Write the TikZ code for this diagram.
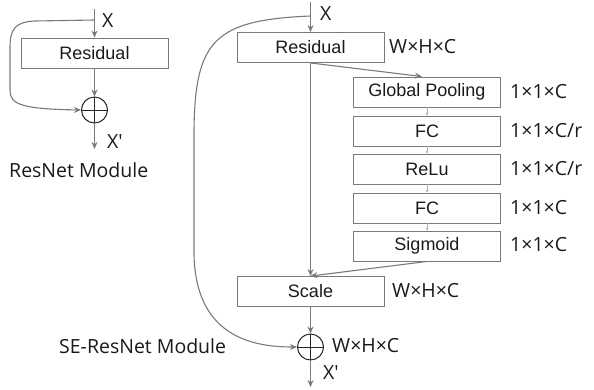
\documentclass[tikz,border=0pt]{standalone}
\usepackage{fontspec}
\setmainfont{Liberation Sans}
\newfontfamily\lblfont{Open Sans}
\usetikzlibrary{arrows.meta}
\definecolor{linegray}{HTML}{7A7A7A}
\definecolor{txt}{HTML}{1A1A1A}
\tikzset{
  blk/.style={draw=linegray, line width=0.9pt, rectangle, minimum width=147pt, minimum height=30pt, inner sep=0pt, text=txt, font=\fontsize{18}{20}\selectfont},
  conn/.style={draw=linegray, line width=1.1pt, -{Stealth[length=7pt,width=6pt]}},
  tiny/.style={draw=linegray!60, line width=0.6pt, -{Stealth[length=3pt,width=3pt]}},
  plusnode/.style={draw=black!85, line width=1pt, circle, minimum size=26pt, inner sep=0pt,
    path picture={\draw[black!85, line width=1pt] (path picture bounding box.north) -- (path picture bounding box.south) (path picture bounding box.west) -- (path picture bounding box.east);}},
  lbl/.style={text=txt, font=\lblfont\fontsize{19.5}{22}\selectfont, inner sep=0pt},
}
\begin{document}
\begin{tikzpicture}[x=1pt,y=-1pt]
\useasboundingbox (0,0) rectangle (594,389);
% ---------- ResNet module ----------
\node[blk] (lres) at (94.5,53) {Residual};
\node[plusnode] (lplus) at (94.5,110) {};
\coordinate (ltop) at (94.5,9);
\coordinate (lsplit) at (94.5,20);
\coordinate (lout) at (94.5,149);
\node[lbl, anchor=west] (lx) at (102,21) {X};
\node[lbl, anchor=west] (lxp) at (107,142) {X′};
\node[lbl, anchor=west] (lname) at (9,170) {ResNet Module};
\draw[conn] (ltop) -- (lres.north);
\draw[conn] (lres.south) -- (lplus.north);
\draw[conn] (lplus.south) -- (lout);
\draw[conn] (lsplit) -- (35,21) .. controls (14,22) and (10,30) .. (10,48) -- (10,90) .. controls (10,104) and (20,109) .. (lplus.west);
% ---------- SE-ResNet module ----------
\node[blk] (rres) at (310.5,47.5) {Residual};
\node[blk] (gp) at (427,92) {Global Pooling};
\node[blk] (fc1) at (427,131) {FC};
\node[blk] (relu) at (427,169) {ReLu};
\node[blk] (fc2) at (427,208) {FC};
\node[blk] (sig) at (427,246) {Sigmoid};
\node[blk] (scale) at (310.5,291.5) {Scale};
\node[plusnode] (splus) at (310.5,347) {};
\coordinate (rtop) at (310.5,2);
\coordinate (rsplit) at (310.5,16);
\coordinate (rout) at (310.5,387);
\draw[conn] (rtop) -- (rres.north);
\draw[conn] (rres.south) -- (scale.north);
\draw[conn] (rres.south) -- ([xshift=-5pt]gp.north);
\draw[tiny] (gp.south) -- (fc1.north);
\draw[tiny] (fc1.south) -- (relu.north);
\draw[tiny] (relu.south) -- (fc2.north);
\draw[tiny] (fc2.south) -- (sig.north);
\draw[conn] (sig.south) -- (scale.north);
\draw[conn] (scale.south) -- (splus.north);
\draw[conn] (splus.south) -- (rout);
\draw[conn] (rsplit) .. controls (215,20) and (195,40) .. (194,130) -- (194,255) .. controls (196,335) and (250,347) .. (splus.west);
% labels
\node[lbl, anchor=west] (rx) at (320,14) {X};
\node[lbl, anchor=west] (d0) at (389,47) {W×H×C};
\node[lbl, anchor=west] (d1) at (510,92) {1×1×C};
\node[lbl, anchor=west] (d2) at (510,131) {1×1×C/r};
\node[lbl, anchor=west] (d3) at (510,169) {1×1×C/r};
\node[lbl, anchor=west] (d4) at (510,208) {1×1×C};
\node[lbl, anchor=west] (d5) at (510,245) {1×1×C};
\node[lbl, anchor=west] (d6) at (392,291) {W×H×C};
\node[lbl, anchor=west] (d7) at (332,346) {W×H×C};
\node[lbl, anchor=west] (rxp) at (323,373) {X′};
\node[lbl, anchor=west] (rname) at (59,346) {SE-ResNet Module};
\end{tikzpicture}
\end{document}
